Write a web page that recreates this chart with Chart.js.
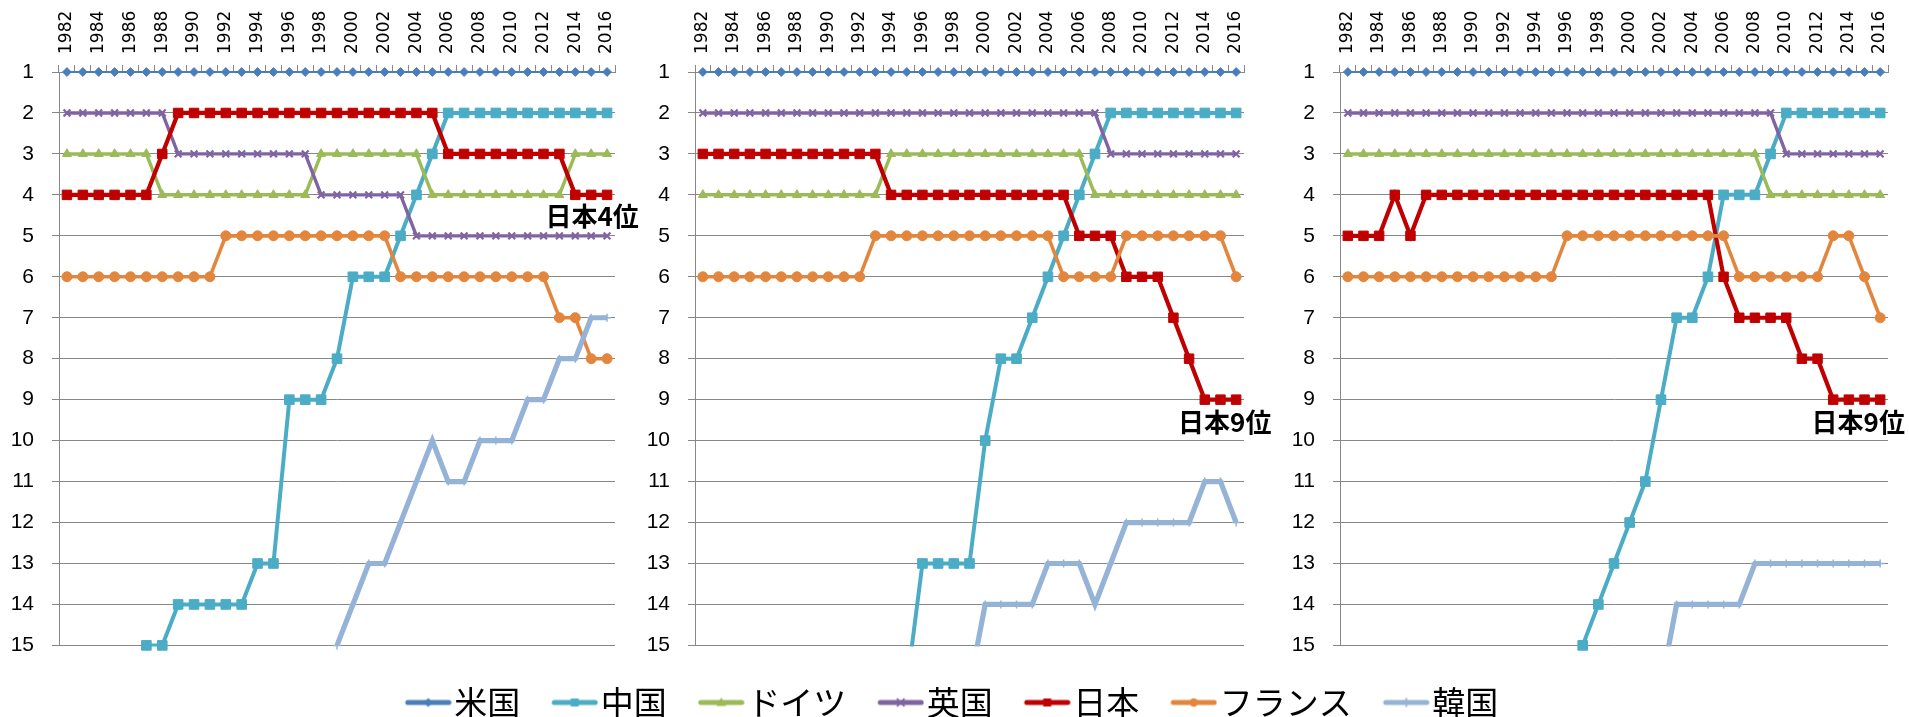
<!DOCTYPE html>
<html><head><meta charset="utf-8">
<script src="https://cdn.jsdelivr.net/npm/chart.js@4/dist/chart.umd.min.js"></script>
<style>
html,body{margin:0;padding:0;background:#fff;width:1909px;height:717px;overflow:hidden;position:relative;}
canvas{position:absolute;}
</style></head><body>
<canvas id="p1" width="640" height="676" style="left:0px;top:0px"></canvas>
<canvas id="p2" width="644" height="676" style="left:636px;top:0px"></canvas>
<canvas id="p3" width="628" height="676" style="left:1281px;top:0px"></canvas>
<canvas id="lg" width="1909" height="200" style="left:0px;top:676px"></canvas>
<script>
// ---- data ----
const years = ['1982','1983','1984','1985','1986','1987','1988','1989','1990','1991','1992','1993','1994','1995','1996','1997','1998','1999','2000','2001','2002','2003','2004','2005','2006','2007','2008','2009','2010','2011','2012','2013','2014','2015','2016'];
const seriesNames = ['米国','中国','ドイツ','英国','日本','フランス','韓国'];
const rankTicks = [1,2,3,4,5,6,7,8,9,10,11,12,13,14,15];

// panel 1
const usA      = [1,1,1,1,1,1,1,1,1,1,1,1,1,1,1,1,1,1,1,1,1,1,1,1,1,1,1,1,1,1,1,1,1,1,1];
const chinaA   = [null,null,null,null,null,15,15,14,14,14,14,14,13,13,9,9,9,8,6,6,6,5,4,3,2,2,2,2,2,2,2,2,2,2,2];
const germanyA = [3,3,3,3,3,3,4,4,4,4,4,4,4,4,4,4,3,3,3,3,3,3,3,4,4,4,4,4,4,4,4,4,3,3,3];
const ukA      = [2,2,2,2,2,2,2,3,3,3,3,3,3,3,3,3,4,4,4,4,4,4,5,5,5,5,5,5,5,5,5,5,5,5,5];
const japanA   = [4,4,4,4,4,4,3,2,2,2,2,2,2,2,2,2,2,2,2,2,2,2,2,2,3,3,3,3,3,3,3,3,4,4,4];
const franceA  = [6,6,6,6,6,6,6,6,6,6,5,5,5,5,5,5,5,5,5,5,5,6,6,6,6,6,6,6,6,6,6,7,7,8,8];
const koreaA   = [null,null,null,null,null,null,null,null,null,null,null,null,null,null,null,null,null,15,14,13,13,12,11,10,11,11,10,10,10,9,9,8,8,7,7];

// panel 2
const usB      = [1,1,1,1,1,1,1,1,1,1,1,1,1,1,1,1,1,1,1,1,1,1,1,1,1,1,1,1,1,1,1,1,1,1,1];
const chinaB   = [null,null,null,null,null,null,null,null,null,null,null,null,null,16,13,13,13,13,10,8,8,7,6,5,4,3,2,2,2,2,2,2,2,2,2];
const germanyB = [4,4,4,4,4,4,4,4,4,4,4,4,3,3,3,3,3,3,3,3,3,3,3,3,3,4,4,4,4,4,4,4,4,4,4];
const ukB      = [2,2,2,2,2,2,2,2,2,2,2,2,2,2,2,2,2,2,2,2,2,2,2,2,2,2,3,3,3,3,3,3,3,3,3];
const japanB   = [3,3,3,3,3,3,3,3,3,3,3,3,4,4,4,4,4,4,4,4,4,4,4,4,5,5,5,6,6,6,7,8,9,9,9];
const franceB  = [6,6,6,6,6,6,6,6,6,6,6,5,5,5,5,5,5,5,5,5,5,5,5,6,6,6,6,5,5,5,5,5,5,5,6];
const koreaB   = [null,null,null,null,null,null,null,null,null,null,null,null,null,null,null,null,null,16,14,14,14,14,13,13,13,14,13,12,12,12,12,12,11,11,12];

// panel 3
const usC      = [1,1,1,1,1,1,1,1,1,1,1,1,1,1,1,1,1,1,1,1,1,1,1,1,1,1,1,1,1,1,1,1,1,1,1];
const chinaC   = [null,null,null,null,null,null,null,null,null,null,null,null,null,null,null,15,14,13,12,11,9,7,7,6,4,4,4,3,2,2,2,2,2,2,2];
const germanyC = [3,3,3,3,3,3,3,3,3,3,3,3,3,3,3,3,3,3,3,3,3,3,3,3,3,3,3,4,4,4,4,4,4,4,4];
const ukC      = [2,2,2,2,2,2,2,2,2,2,2,2,2,2,2,2,2,2,2,2,2,2,2,2,2,2,2,2,3,3,3,3,3,3,3];
const japanC   = [5,5,5,4,5,4,4,4,4,4,4,4,4,4,4,4,4,4,4,4,4,4,4,4,6,7,7,7,7,8,8,9,9,9,9];
const franceC  = [6,6,6,6,6,6,6,6,6,6,6,6,6,6,5,5,5,5,5,5,5,5,5,5,5,6,6,6,6,6,6,5,5,6,7];
const koreaC   = [null,null,null,null,null,null,null,null,null,null,null,null,null,null,null,null,null,null,null,null,16,14,14,14,14,14,13,13,13,13,13,13,13,13,13];

const labelTexts = ['日本4位','日本9位','日本9位'];

// ---- styles ----
const STYLES = [
  {color:'#4A7EBB', lw:2.2,  ps:'rectRot',  pr:4.4, pbw:1},
  {color:'#4BACC6', lw:4,    ps:'rect',     pr:6.8, pbw:1},
  {color:'#9BBB59', lw:3.5,  ps:'triangle', pr:5.2, pbw:1},
  {color:'#8064A2', lw:3.4,  ps:'crossRot', pr:4.8, pbw:2.2},
  {color:'#C00000', lw:4.2,  ps:'rect',     pr:6.7, pbw:1},
  {color:'#E2863E', lw:3.6,  ps:'circle',   pr:5,   pbw:1},
  {color:'#95B3D7', lw:5.2,  ps:'cross',    pr:4,   pbw:1.5}
];
const GRID = '#878787';
const XFONT = "'DejaVu Sans', sans-serif";
const YFONT = "'Liberation Sans', Arial, sans-serif";
const CJK = "'Noto Sans CJK JP', 'Noto Sans', sans-serif";
const MAXRANK = rankTicks[rankTicks.length-1];

function makeDatasets(values){
  const ds = [];
  const n = values.length;
  values.forEach((vals,i)=>{
    const st = STYLES[i];
    ds.push({label:seriesNames[i], data:vals, borderColor:st.color, backgroundColor:st.color,
      borderWidth:st.lw, pointRadius:0, pointHoverRadius:0, spanGaps:false, tension:0,
      clip:{left:false, top:false, right:false, bottom:1}, order:(n-1-i)*2+1});
    ds.push({label:seriesNames[i], data:vals.map(v => (v!==null && v<=MAXRANK) ? v : null), showLine:false,
      pointStyle:st.ps, pointRadius:st.pr, pointHoverRadius:st.pr, pointBorderWidth:st.pbw,
      pointBackgroundColor:st.color, pointBorderColor:st.color, clip:false, order:(n-1-i)*2});
  });
  return ds;
}

const rankLabelPlugin = {
  id:'rankLabel',
  afterDatasetsDraw(chart, args, opts){
    if(!opts || !opts.text) return;
    const ctx = chart.ctx;
    const x = chart.scales.x.getPixelForValue(opts.at[0]);
    const y = chart.scales.y.getPixelForValue(opts.at[1]);
    ctx.save();
    ctx.font = "bold 26px " + CJK;
    ctx.fillStyle = '#000';
    ctx.textAlign = 'center';
    ctx.textBaseline = 'middle';
    ctx.fillText(opts.text, x, y);
    ctx.restore();
  }
};

function makePanel(id, values, label, at, padRight){
  return new Chart(document.getElementById(id), {
    type:'line',
    data:{labels:years, datasets:makeDatasets(values)},
    plugins:[rankLabelPlugin],
    options:{
      responsive:false, animation:false, events:[],
      layout:{padding:{left:0, right:padRight, top:0, bottom:14}},
      plugins:{legend:{display:false}, tooltip:{enabled:false}, rankLabel:{text:label, at:at}},
      scales:{
        x:{type:'category', position:'top', offset:true,
          grid:{display:true, drawOnChartArea:false, drawTicks:true, tickLength:7, offset:true, color:GRID, lineWidth:1},
          border:{display:true, color:GRID, width:1},
          ticks:{autoSkip:false, maxRotation:90, minRotation:90, padding:11, color:'#000',
            font:{family:XFONT, size:17, lineHeight:0.01},
            callback:function(v,i){ return (i%2===0) ? this.getLabelForValue(v) : ''; }},
          afterFit(s){ s.height = 72; }
        },
        y:{type:'linear', reverse:true, min:rankTicks[0], max:MAXRANK,
          afterBuildTicks(s){ s.ticks = rankTicks.map(v=>({value:v})); },
          grid:{color:GRID, lineWidth:1, tickLength:7},
          border:{display:true, color:GRID, width:1},
          ticks:{padding:18, color:'#000', font:{family:YFONT, size:21}},
          afterFit(s){ s.width = 59; }
        }
      }
    }
  });
}

makePanel('p1', [usA,chinaA,germanyA,ukA,japanA,franceA,koreaA], labelTexts[0], [33.06, 4.53], 25);
makePanel('p2', [usB,chinaB,germanyB,ukB,japanB,franceB,koreaB], labelTexts[1], [33.27, 9.55], 36);
makePanel('p3', [usC,chinaC,germanyC,ukC,japanC,franceC,koreaC], labelTexts[2], [32.6, 9.55], 21);

// ---- legend ----
function legendImage(st){
  const c = document.createElement('canvas');
  c.width = 82; c.height = 20;
  const g = c.getContext('2d');
  g.strokeStyle = st.color; g.fillStyle = st.color;
  g.lineWidth = 5; g.lineCap = 'round';
  g.beginPath(); g.moveTo(38,10); g.lineTo(79,10); g.stroke();
  const cx = 58.5, cy = 10;
  g.lineWidth = 1.8; g.lineCap = 'butt';
  g.beginPath();
  switch(st.ps){
    case 'rectRot': g.moveTo(cx,cy-4.5); g.lineTo(cx+4.5,cy); g.lineTo(cx,cy+4.5); g.lineTo(cx-4.5,cy); g.closePath(); g.fill(); break;
    case 'rect': g.rect(cx-4,cy-4,8,8); g.fill(); break;
    case 'triangle': g.moveTo(cx,cy-5); g.lineTo(cx+5,cy+3.5); g.lineTo(cx-5,cy+3.5); g.closePath(); g.fill(); break;
    case 'crossRot': g.moveTo(cx-3.8,cy-3.8); g.lineTo(cx+3.8,cy+3.8); g.moveTo(cx+3.8,cy-3.8); g.lineTo(cx-3.8,cy+3.8); g.stroke(); break;
    case 'circle': g.arc(cx,cy,4.2,0,Math.PI*2); g.fill(); break;
    case 'cross': g.moveTo(cx,cy-4.5); g.lineTo(cx,cy+4.5); g.stroke(); break;
  }
  return c;
}
const legendImgs = STYLES.map(legendImage);

new Chart(document.getElementById('lg'), {
  type:'line',
  data:{labels:[], datasets:seriesNames.map((n,i)=>({label:n, data:[], borderColor:STYLES[i].color, backgroundColor:STYLES[i].color}))},
  options:{
    responsive:false, animation:false, events:[],
    layout:{padding:{left:0, right:27, top:0, bottom:0}},
    scales:{x:{display:false}, y:{display:false}},
    plugins:{tooltip:{enabled:false},
      legend:{display:true, position:'top', align:'center',
        labels:{usePointStyle:true, pointStyleWidth:54, padding:10, color:'#000',
          font:{family:CJK, size:33},
          generateLabels(chart){
            return chart.data.datasets.map((d,i)=>({text:d.label, pointStyle:legendImgs[i], fillStyle:d.borderColor,
              strokeStyle:d.borderColor, lineWidth:0, hidden:false, datasetIndex:i, fontColor:'#000'}));
          }}}}
  }
});
</script>
</body></html>
